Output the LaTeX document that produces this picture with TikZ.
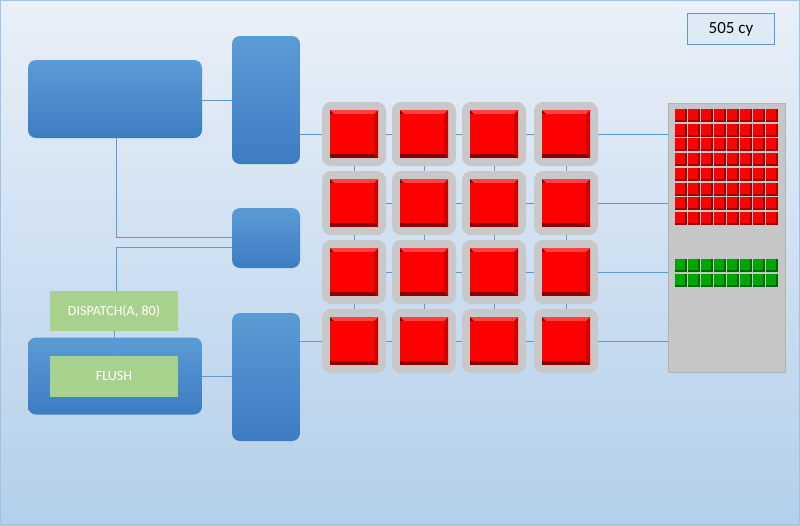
\documentclass[tikz,border=0pt]{standalone}
\usepackage{fontspec}
\setmainfont{Carlito}
\begin{document}
\begin{tikzpicture}[x=1pt,y=-1pt]
\definecolor{bA}{HTML}{5B9BD5}\definecolor{bB}{HTML}{3D7CC2}
\definecolor{gB}{HTML}{A9D18E}\definecolor{bgT}{HTML}{E9F0F8}\definecolor{bgB}{HTML}{B3CFEA}
\definecolor{lbl}{HTML}{DEEBF7}\definecolor{fr}{HTML}{C8C8C8}
\tikzset{bluebox/.style={draw=none,rounded corners=8pt,top color=bA,bottom color=bB},
 greenbox/.style={draw=none,fill=gB,font=\fontsize{14}{16}\selectfont,text=white},
 wire/.style={draw=bA,line width=0.7pt},
 frame/.style={fill=fr,rounded corners=9pt,draw=none}}
\shade[top color=bgT,bottom color=bgB] (0,0) rectangle (800,525);
\draw[bA!60,line width=1pt] (0.5,0.5) rectangle (799.5,524.5);
\useasboundingbox (0,0) rectangle (800,525);
\node[draw=bA,fill=lbl,minimum width=87pt,minimum height=31pt,font=\fontsize{17}{19}\selectfont] (cy) at (731,29) {505 cy};
\node[bluebox,minimum width=174pt,minimum height=78pt] (big) at (115,99) {};
\node[bluebox,minimum width=68pt,minimum height=128pt] (t1) at (266,100) {};
\node[bluebox,minimum width=68pt,minimum height=60pt] (sm) at (266,238) {};
\node[bluebox,minimum width=68pt,minimum height=128pt] (t2) at (266,377) {};
\node[bluebox,minimum width=174pt,minimum height=77pt] (bl) at (115,376) {};
\node[greenbox,minimum width=128pt,minimum height=40pt] (disp) at (114,311) {DISPATCH(A, 80)};
\node[greenbox,minimum width=128pt,minimum height=41pt] (fl) at (114,376) {FLUSH};
\node[fill=gray!45,draw=gray!60,minimum width=117pt,minimum height=269pt,inner sep=0pt] (panel) at (726.5,237.5) {};
\draw[wire] (big.east |- 0,100) -- (t1.west |- 0,100);
\draw[wire] (116,138) -- (116,237) -- (sm.west |- 0,237);
\draw[wire] (sm.west |- 0,247) -- (116,247) -- (116,291);
\draw[wire] (disp.south) -- (fl.north);
\draw[wire] (fl.east -| bl.east) -- (t2.west |- 0,376);
\foreach \r/\y in {1/134,2/203,3/272,4/341}{
 \foreach \c/\x in {1/354,2/424,3/494,4/566}{
  \node[frame,minimum size=64pt] (f\r\c) at (\x,\y) {};
 }}
\foreach \r in {1,...,4}{
 \foreach \c/\n in {1/2,2/3,3/4}{\draw[wire] (f\r\c.east) -- (f\r\n.west);}
 \draw[wire] (f\r4.east) -- (f\r4.east -| panel.west);}
\foreach \c in {1,...,4}{
 \foreach \r/\n in {1/2,2/3,3/4}{\draw[wire] (f\r\c.south) -- (f\n\c.north);}}
\draw[wire] (t1.east |- f11.west) -- (f11.west);
\draw[wire] (t2.east |- f41.west) -- (f41.west);
\foreach \r/\y in {1/134,2/203,3/272,4/341}{
 \foreach \c/\x in {1/354,2/424,3/494,4/566}{
  \fill[red!55!black] (\x-24,\y-24) rectangle (\x+24,\y+24);
  \fill[red!80!black] (\x+20,\y-20) -- (\x+24,\y-24) -- (\x+24,\y+24) -- (\x+20,\y+20) -- cycle;
  \fill[red!75!white] (\x-24,\y-24) -- (\x+24,\y-24) -- (\x+20,\y-20) -- (\x-20,\y-20) -- cycle;
  \fill[red] (\x-24,\y-20) rectangle (\x+20,\y+20);
 }}
\foreach \i in {0,...,7}{
 \foreach \j in {0,...,7}{
  \fill[red!60!black] (675+\j*13,109+\i*14.7) rectangle (687+\j*13,122+\i*14.7);
  \fill[red] (675+\j*13,109+\i*14.7) rectangle (685+\j*13,120+\i*14.7);
 }}
\foreach \i in {0,1}{
 \foreach \j in {0,...,7}{
  \fill[green!40!black] (675+\j*13,259+\i*15) rectangle (687+\j*13,272+\i*15);
  \fill[green!65!black] (675+\j*13,259+\i*15) rectangle (685+\j*13,270+\i*15);
 }}
\end{tikzpicture}
\end{document}
